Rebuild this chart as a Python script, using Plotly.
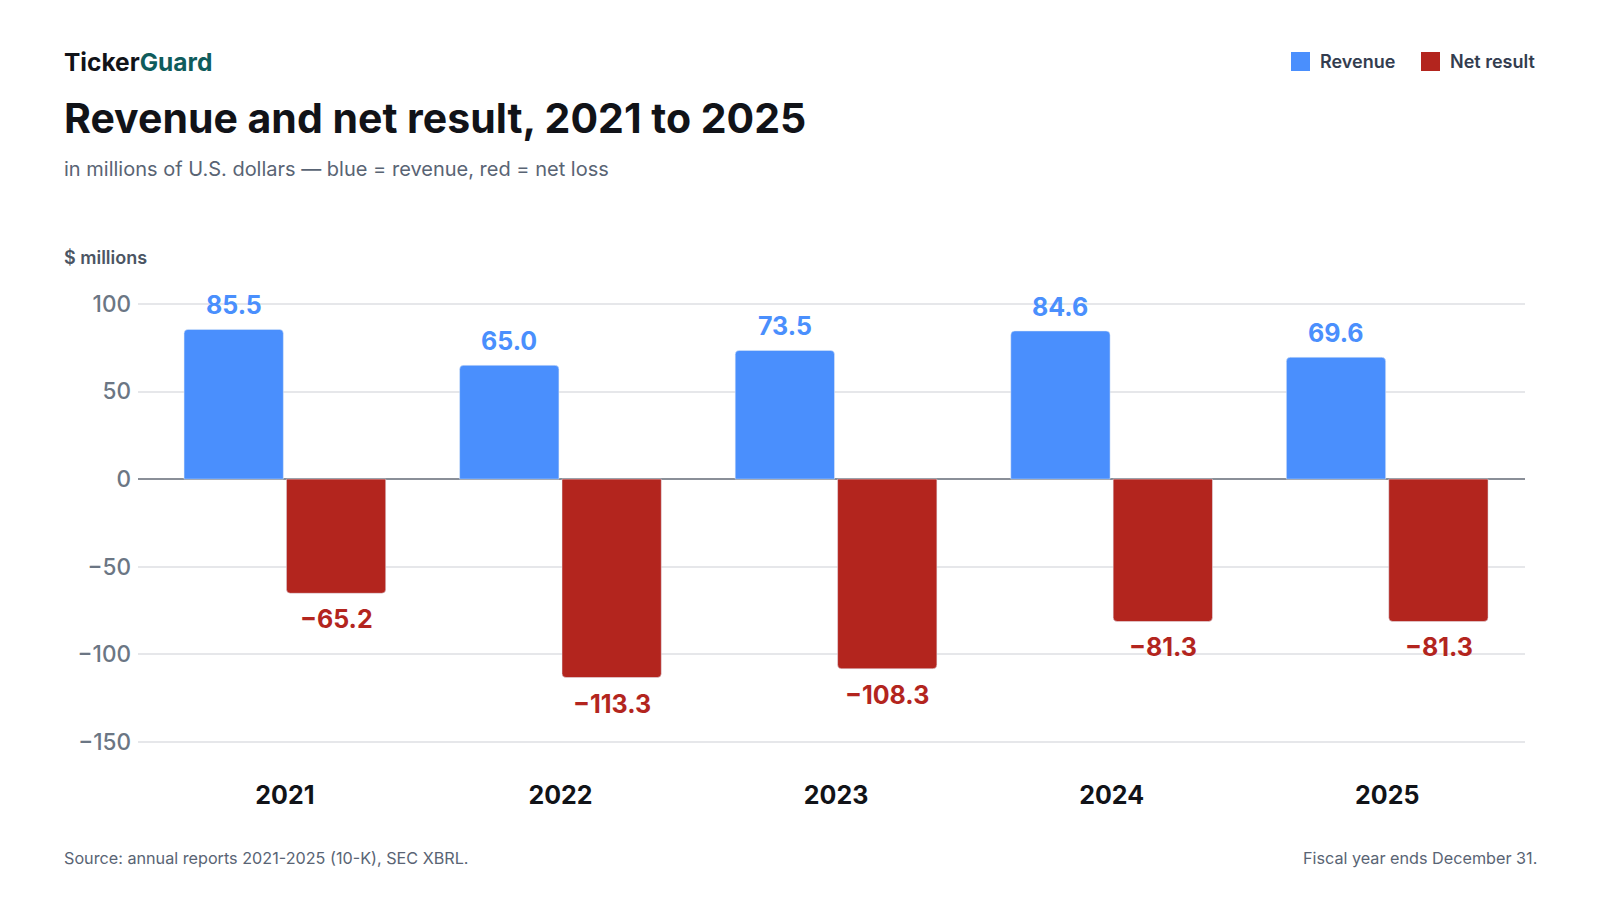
import plotly.graph_objects as go

# Data (USD millions)
years = ["2021", "2022", "2023", "2024", "2025"]
revenue = [85.5, 65.0, 73.5, 84.6, 69.6]
net_result = [-65.2, -113.3, -108.3, -81.3, -81.3]
y_ticks = [100, 50, 0, -50, -100, -150]

BLUE = "#4a8ffd"
RED = "#b3251e"
FONT = "Inter"

W, H = 1600, 900
L, R, T, B = 130, 83, 282, 148


def px(x):
    # pixel -> paper x
    return (x - L) / (W - L - R)


def py(y):
    # pixel -> paper y
    return (H - B - y) / (H - T - B)


def fmt(v):
    return f"{v:.1f}".replace("-", "\u2212")


fig = go.Figure()

fig.add_trace(go.Bar(
    x=years, y=revenue, name="Revenue",
    marker=dict(color=BLUE, cornerradius=4),
    hovertemplate="%{x}: %{y:.1f}<extra>Revenue</extra>",
))
fig.add_trace(go.Bar(
    x=years, y=net_result, name="Net result",
    marker=dict(color=RED, cornerradius=4),
    hovertemplate="%{x}: %{y:.1f}<extra>Net result</extra>",
))

# value labels above / below bars (category index as x)
shift = 51.3
for i, (rv, nr) in enumerate(zip(revenue, net_result)):
    fig.add_annotation(x=i, y=rv, text=fmt(rv), showarrow=False,
                       xshift=-shift, yshift=7, yanchor="bottom",
                       font=dict(family=FONT, size=25, color=BLUE, weight=700))
    fig.add_annotation(x=i, y=nr, text=fmt(nr), showarrow=False,
                       xshift=shift, yshift=-9, yanchor="top",
                       font=dict(family=FONT, size=25, color=RED, weight=700))

# header
fig.add_annotation(xref="paper", yref="paper", x=px(54), y=py(54),
                   xanchor="left", yanchor="middle", showarrow=False,
                   text="Ticker<span style='color:#0f5c5c'>Guard</span>",
                   font=dict(family=FONT, size=24.5, color="#111318", weight=700))
fig.add_annotation(xref="paper", yref="paper", x=px(54), y=py(110),
                   xanchor="left", yanchor="middle", showarrow=False,
                   text="Revenue and net result, 2021 to 2025",
                   font=dict(family=FONT, size=41, color="#111318", weight=700))
fig.add_annotation(xref="paper", yref="paper", x=px(54), y=py(161),
                   xanchor="left", yanchor="middle", showarrow=False,
                   text="in millions of U.S. dollars \u2014 blue = revenue, red = net loss",
                   font=dict(family=FONT, size=20, color="#596474"))
fig.add_annotation(xref="paper", yref="paper", x=px(54), y=py(250),
                   xanchor="left", yanchor="middle", showarrow=False,
                   text="$ millions",
                   font=dict(family=FONT, size=18, color="#4b5563", weight=600))

# legend
for x0, label, color in [(1283, "Revenue", BLUE), (1413, "Net result", RED)]:
    fig.add_shape(type="rect", xref="paper", yref="paper",
                  x0=px(x0), x1=px(x0 + 19), y0=py(63), y1=py(44),
                  fillcolor=color, line=dict(width=0))
    fig.add_annotation(xref="paper", yref="paper", x=px(x0 + 27), y=py(54),
                       xanchor="left", yanchor="middle", showarrow=False,
                       text=label,
                       font=dict(family=FONT, size=18, color="#333d4f", weight=600))

# footer
fig.add_annotation(xref="paper", yref="paper", x=px(54), y=py(850),
                   xanchor="left", yanchor="middle", showarrow=False,
                   text="Source: annual reports 2021-2025 (10-K), SEC XBRL.",
                   font=dict(family=FONT, size=16.2, color="#596474"))
fig.add_annotation(xref="paper", yref="paper", x=px(1531), y=py(850),
                   xanchor="right", yanchor="middle", showarrow=False,
                   text="Fiscal year ends December 31.",
                   font=dict(family=FONT, size=16.2, color="#596474"))

fig.update_layout(
    width=W, height=H,
    margin=dict(l=L, r=R, t=T, b=B),
    paper_bgcolor="white", plot_bgcolor="white",
    barmode="group", bargap=0.257, bargroupgap=0.03,
    showlegend=False,
    font=dict(family=FONT),
    xaxis=dict(
        type="category", range=[-0.533, 4.5],
        showgrid=False, zeroline=False, showline=False,
        ticks="", ticklabelstandoff=18,
        tickfont=dict(family=FONT, size=25, color="#111318", weight=700),
    ),
    yaxis=dict(
        range=[-160.4, 108.0],
        tickvals=y_ticks,
        showgrid=True, gridcolor="#e6e7ea", gridwidth=1.5,
        zeroline=True, zerolinecolor="#8a8f98", zerolinewidth=2,
        showline=False, ticks="", ticklabelstandoff=6,
        tickfont=dict(family=FONT, size=22.5, color="#6b7684", weight=500),
    ),
)

fig.write_html("out.html")
